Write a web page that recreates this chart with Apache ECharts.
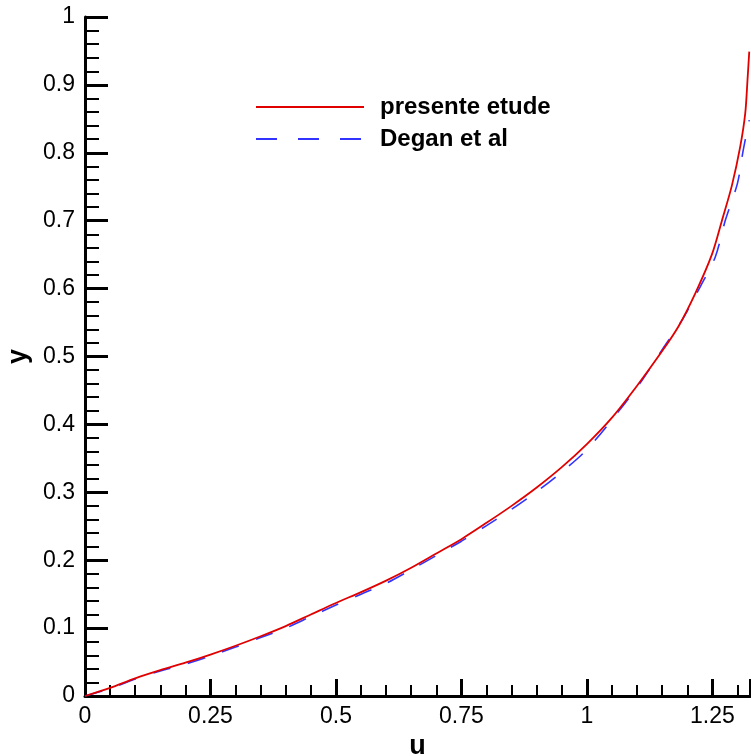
<!DOCTYPE html>
<html>
<head>
<meta charset="utf-8">
<script src="https://cdn.jsdelivr.net/npm/echarts@6/dist/echarts.min.js"></script>
<style>
html,body{margin:0;padding:0;background:#fff;}
#chart{width:751px;height:756px;}
</style>
</head>
<body>
<div id="chart"></div>
<script>
// Data
const seriesNames = ['presente etude', 'Degan et al'];

const redU = [0, 0.05, 0.10, 0.15, 0.20, 0.25, 0.30, 0.35, 0.40, 0.45, 0.50, 0.55, 0.60, 0.65, 0.70, 0.75, 0.80, 0.85, 0.90, 0.95, 1.00, 1.05, 1.10, 1.15, 1.183, 1.216, 1.249, 1.269, 1.289, 1.3055, 1.3155, 1.320, 1.3235];
const redY = [0, 0.012, 0.026, 0.038, 0.049, 0.061, 0.074, 0.088, 0.103, 0.120, 0.137, 0.153, 0.170, 0.189, 0.210, 0.231, 0.255, 0.280, 0.307, 0.337, 0.371, 0.410, 0.457, 0.508, 0.545, 0.593, 0.650, 0.700, 0.752, 0.809, 0.858, 0.907, 0.949];

const blueU = [0, 0.05, 0.10, 0.15, 0.20, 0.25, 0.30, 0.35, 0.40, 0.45, 0.50, 0.55, 0.60, 0.65, 0.70, 0.75, 0.80, 0.85, 0.90, 0.95, 1.00, 1.064, 1.110, 1.150, 1.190, 1.226, 1.256, 1.276, 1.300, 1.3115, 1.3235];
const blueY = [0, 0.011, 0.025, 0.037, 0.047, 0.059, 0.072, 0.086, 0.100, 0.117, 0.134, 0.150, 0.166, 0.186, 0.207, 0.228, 0.251, 0.275, 0.301, 0.330, 0.363, 0.420, 0.465, 0.510, 0.554, 0.603, 0.647, 0.701, 0.755, 0.804, 0.848];

const xTicks = [0, 0.25, 0.5, 0.75, 1, 1.25];
const yTicks = [0, 0.1, 0.2, 0.3, 0.4, 0.5, 0.6, 0.7, 0.8, 0.9, 1];

const redData = redU.map((u, i) => [u, redY[i]]);
const blueData = blueU.map((u, i) => [u, blueY[i]]);

const chart = echarts.init(document.getElementById('chart'), null, {renderer: 'canvas'});
const labelFont = {color: '#000', fontFamily: 'Liberation Sans, Arial, sans-serif', fontSize: 23};

chart.setOption({
  animation: false,
  backgroundColor: '#fff',
  grid: {left: 85, right: 1, top: 17, bottom: 60, containLabel: false, outerBoundsMode: 'none'},
  legend: {
    show: true,
    orient: 'vertical',
    left: 255,
    top: 95,
    padding: 0,
    itemWidth: 108,
    itemHeight: 14,
    itemGap: 8,
    itemStyle: {opacity: 0},
    textStyle: {color: '#000', fontFamily: 'Liberation Sans, Arial, sans-serif', fontWeight: 'bold', fontSize: 24, lineHeight: 24, padding: [0, 0, 0, 11]},
    data: [
      {name: seriesNames[0]},
      {name: seriesNames[1], lineStyle: {type: [21, 21]}}
    ]
  },
  xAxis: {
    type: 'value',
    min: 0,
    max: 1.325,
    interval: 0.25,
    name: 'u',
    nameLocation: 'middle',
    nameGap: 33,
    nameTextStyle: {color: '#000', fontFamily: 'Liberation Sans, Arial, sans-serif', fontWeight: 'bold', fontSize: 27},
    axisLine: {show: true, onZero: false, lineStyle: {color: '#000', width: 3}},
    axisTick: {show: true, inside: true, length: 17, lineStyle: {color: '#000', width: 3}},
    minorTick: {show: true, splitNumber: 5, length: 11, lineStyle: {color: '#000', width: 2}},
    splitLine: {show: false},
    axisLabel: Object.assign({margin: 9, showMaxLabel: false, formatter: v => String(+v.toFixed(2))}, labelFont)
  },
  yAxis: {
    type: 'value',
    min: 0,
    max: 1,
    interval: 0.1,
    name: 'y',
    nameLocation: 'middle',
    nameGap: 44,
    nameTextStyle: {color: '#000', fontFamily: 'Liberation Sans, Arial, sans-serif', fontWeight: 'bold', fontSize: 27},
    axisLine: {show: true, onZero: false, lineStyle: {color: '#000', width: 3}},
    axisTick: {show: true, inside: true, length: 23, lineStyle: {color: '#000', width: 3}},
    minorTick: {show: true, splitNumber: 5, length: 14, lineStyle: {color: '#000', width: 2}},
    splitLine: {show: false},
    axisLabel: Object.assign({margin: 10, formatter: v => String(+v.toFixed(1))}, labelFont)
  },
  series: [
    {
      name: seriesNames[0],
      type: 'line',
      data: redData,
      showSymbol: false,
      symbol: 'none',
      smooth: 0.3,
      z: 3,
      color: '#e00000',
      lineStyle: {color: '#e00000', width: 1.8}
    },
    {
      name: seriesNames[1],
      type: 'line',
      data: blueData,
      showSymbol: false,
      symbol: 'none',
      smooth: 0.3,
      z: 2,
      color: '#3333ff',
      lineStyle: {color: '#3333ff', width: 1.6, type: [18, 18]}
    }
  ]
});
</script>
</body>
</html>
